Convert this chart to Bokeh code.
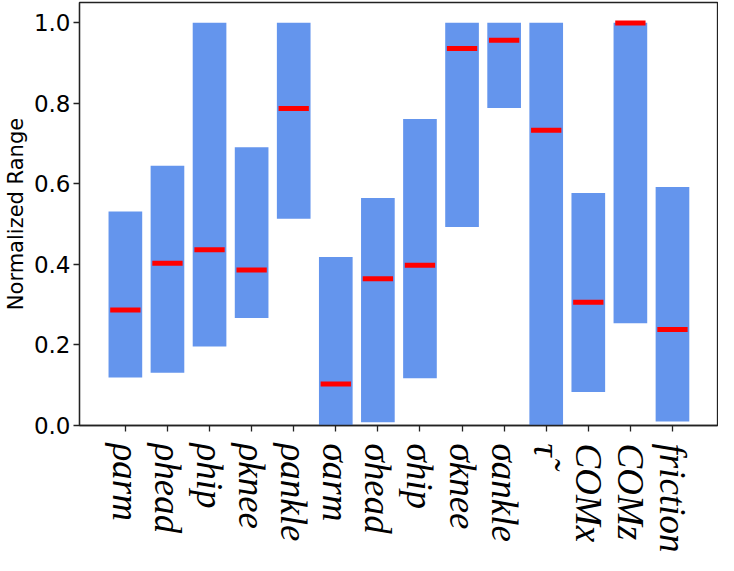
from bokeh.plotting import figure
from bokeh.models import Range1d, FixedTicker, SingleIntervalTicker, ColumnDataSource, PrintfTickFormatter
from bokeh.embed import file_html
from bokeh.resources import INLINE

# ---- data ----
categories = ["ρarm", "ρhead", "ρhip", "ρknee", "ρankle",
              "σarm", "σhead", "σhip", "σknee", "σankle",
              "τ̃", "COMx", "COMz", "friction"]
low = [0.119, 0.131, 0.196, 0.267, 0.513,
       0.000, 0.008, 0.117, 0.493, 0.788,
       0.000, 0.083, 0.254, 0.010]
high = [0.531, 0.645, 1.000, 0.691, 1.000,
        0.418, 0.565, 0.761, 1.000, 1.000,
        1.000, 0.577, 1.000, 0.592]
median = [0.287, 0.403, 0.436, 0.386, 0.787,
          0.103, 0.364, 0.398, 0.936, 0.956,
          0.733, 0.306, 0.999, 0.238]

idx = list(range(len(categories)))
src = ColumnDataSource(dict(x=idx, low=low, high=high, med=median, name=categories))

p = figure(width=718, height=555, output_backend="svg", toolbar_location=None,
           x_range=Range1d(-1.09, len(categories) + 0.07),
           y_range=Range1d(0, 1.05),
           min_border_left=0, min_border_right=1, min_border_top=2,
           min_border_bottom=128)

p.vbar(x="x", width=0.8, bottom="low", top="high", source=src,
       fill_color="#6495ED", line_color=None)
p.rect(x="x", y="med", width=0.72, height=5, height_units="screen", source=src,
       fill_color="#FF0000", line_color=None)

p.grid.visible = False
p.outline_line_color = "#222222"
p.outline_line_width = 1.3
p.background_fill_color = "white"
p.border_fill_color = "white"

# x axis
p.xaxis.ticker = FixedTicker(ticks=idx)
p.xaxis.major_label_overrides = {i: c for i, c in zip(idx, categories)}
p.xaxis.major_label_orientation = "vertical"
p.xaxis.major_label_text_font = "Liberation Serif"
p.xaxis.major_label_text_font_style = "italic"
p.xaxis.major_label_text_font_size = "37px"
p.xaxis.major_label_text_color = "black"
p.xaxis.major_label_standoff = 12

# y axis
p.yaxis.ticker = SingleIntervalTicker(interval=0.2)
p.yaxis.formatter = PrintfTickFormatter(format="%.1f")
p.yaxis.axis_label = "Normalized Range"
p.yaxis.axis_label_text_font = "DejaVu Sans"
p.yaxis.axis_label_text_font_style = "normal"
p.yaxis.axis_label_text_font_size = "21px"
p.yaxis.axis_label_text_color = "black"
p.yaxis.axis_label_standoff = 3
p.yaxis.major_label_text_font = "DejaVu Sans"
p.yaxis.major_label_text_font_size = "23px"
p.yaxis.major_label_text_color = "black"
p.yaxis.major_label_standoff = 3

for ax in (p.xaxis, p.yaxis):
    ax.axis_line_color = "#222222"
    ax.axis_line_width = 1.3
    ax.major_tick_line_color = "#222222"
    ax.major_tick_line_width = 1.3
    ax.major_tick_in = 0
    ax.major_tick_out = 6
    ax.minor_tick_line_color = None

open("out.html", "w").write(file_html(p, INLINE))
